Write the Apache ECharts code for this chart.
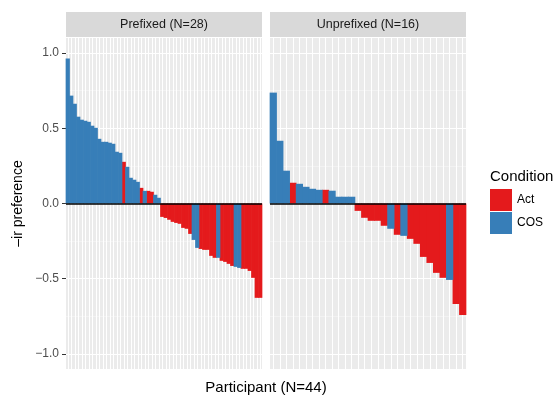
<!DOCTYPE html>
<html><head><meta charset="utf-8">
<script src="https://cdn.jsdelivr.net/npm/echarts@6.0.0/dist/echarts.min.js"></script>
<style>html,body{margin:0;padding:0;background:#fff}#c{width:558px;height:395px}</style>
</head><body><div id="c"></div>
<script>
// ---- data ----
const panelTitles = ['Prefixed (N=28)', 'Unprefixed (N=16)'];
const conditions = ['Act', 'COS'];
const yTicks = [-1, -0.5, 0, 0.5, 1];
const yMinorTicks = [-0.75, -0.25, 0.25, 0.75];

const prefixedValues = [
  0.963, 0.717, 0.663, 0.577, 0.557, 0.550, 0.543, 0.517, 0.503, 0.430,
  0.410, 0.410, 0.404, 0.397, 0.344, 0.337, 0.277, 0.244, 0.171, 0.158,
  0.144, 0.104, 0.084, 0.084, 0.078, 0.058, 0.038,
  -0.089, -0.096, -0.108, -0.122, -0.129, -0.135, -0.162, -0.168, -0.202, -0.242,
  -0.295, -0.302, -0.308, -0.308, -0.348, -0.361, -0.361, -0.381, -0.388, -0.401,
  -0.415, -0.421, -0.428, -0.434, -0.434, -0.448, -0.494, -0.627, -0.627
];
const prefixedCond = [
  'COS','COS','COS','COS','COS','COS','COS','COS','COS','COS',
  'COS','COS','COS','COS','COS','COS','Act','COS','COS','COS',
  'COS','Act','COS','Act','Act','COS','COS',
  'Act','Act','Act','Act','Act','Act','Act','Act','Act','COS',
  'COS','Act','Act','Act','Act','Act','COS','Act','Act','Act',
  'Act','COS','COS','Act','Act','Act','Act','Act','Act'
];
const unprefixedValues = [
  0.737, 0.417, 0.218, 0.138, 0.131, 0.111, 0.098, 0.091, 0.091, 0.085,
  0.045, 0.045, 0.045,
  -0.049, -0.095, -0.115, -0.115, -0.148, -0.168, -0.208, -0.215, -0.235,
  -0.268, -0.355, -0.395, -0.461, -0.494, -0.508, -0.668, -0.741
];
const unprefixedCond = [
  'COS','COS','COS','Act','COS','COS','COS','COS','Act','COS',
  'COS','COS','COS',
  'Act','Act','Act','Act','Act','COS','Act','COS','Act',
  'Act','Act','Act','Act','Act','COS','Act','Act'
];

// ---- styling ----
const colors = { Act: '#E41A1C', COS: '#377EB8' };
const FONT = '"Liberation Sans", Arial, Helvetica, sans-serif';
const panels = [
  { values: prefixedValues, cond: prefixedCond, left: 66 },
  { values: unprefixedValues, cond: unprefixedCond, left: 270 }
];
const PW = 196, PT = 38, PH = 331;

// bar drawn through the axis scales; slight overlap hides anti-alias seams
function renderBar(params, api) {
  const x = api.value(0), v = api.value(1);
  const p0 = api.coord([x, 0]);
  const p1 = api.coord([x, v]);
  const w = api.size([1, 0])[0];
  return {
    type: 'rect',
    shape: { x: p0[0] - w / 2 - 0.35, y: Math.min(p0[1], p1[1]),
             width: w + 0.7, height: Math.abs(p1[1] - p0[1]) },
    style: { fill: api.visual('color') }
  };
}

const grid = [], xAxis = [], yAxis = [], series = [], graphic = [];
panels.forEach((p, pi) => {
  grid.push({ left: p.left, top: PT, width: PW, height: PH, show: true,
    backgroundColor: '#EBEBEB', borderWidth: 0 });
  xAxis.push({ type: 'category', gridIndex: pi,
    data: p.values.map((_, i) => 'P' + (pi + 1) + '-' + (i + 1)),
    axisLine: { show: false }, axisTick: { show: false }, axisLabel: { show: false },
    splitLine: { show: true, interval: 0, alignWithLabel: true,
      lineStyle: { color: '#FFFFFF', width: 1 } } });
  // major y
  yAxis.push({ type: 'value', gridIndex: pi, min: -1.1, max: 1.1,
    axisLine: { show: false },
    axisTick: { show: pi === 0, length: 4, customValues: yTicks,
      lineStyle: { color: '#333333', width: 1 } },
    axisLabel: { show: pi === 0, customValues: yTicks, margin: 7,
      color: '#4D4D4D', fontSize: 12, fontFamily: FONT,
      formatter: v => v.toFixed(1).replace('-', '\u2212') },
    splitLine: { show: true, lineStyle: { color: '#FFFFFF', width: 1.2 } } });
  // minor y
  yAxis.push({ type: 'value', gridIndex: pi, min: -1.1, max: 1.1,
    axisLine: { show: false },
    axisTick: { show: false, customValues: yMinorTicks },
    axisLabel: { show: false, customValues: yMinorTicks },
    splitLine: { show: true, lineStyle: { color: '#F7F7F7', width: 0.6 } } });

  conditions.forEach((c) => {
    const data = [];
    p.values.forEach((v, i) => { if (p.cond[i] === c) data.push([i, v]); });
    series.push({ type: 'custom', name: c, xAxisIndex: pi, yAxisIndex: pi * 2,
      itemStyle: { color: colors[c] }, renderItem: renderBar,
      encode: { x: 0, y: 1 }, data });
  });
  // zero reference line (geom_hline)
  series.push({ type: 'bar', name: 'zero' + pi, xAxisIndex: pi, yAxisIndex: pi * 2,
    data: p.values.map(() => '-'), z: 5,
    markLine: { silent: true, symbol: ['none', 'none'], label: { show: false },
      lineStyle: { color: '#000000', width: 1.6, type: 'solid' },
      data: [{ yAxis: 0 }] } });

  graphic.push({ type: 'rect', shape: { x: p.left, y: 12, width: PW, height: 25 },
    style: { fill: '#D9D9D9' } });
  graphic.push({ type: 'text', x: p.left + PW / 2, y: 25,
    style: { text: panelTitles[pi], fill: '#1A1A1A', font: '12.5px ' + FONT,
      textAlign: 'center', textVerticalAlign: 'middle' } });
});

graphic.push({ type: 'text', x: 266, y: 388,
  style: { text: 'Participant (N=44)', fill: '#000', font: '15px ' + FONT,
    textAlign: 'center', textVerticalAlign: 'middle' } });
graphic.push({ type: 'text', x: 18, y: 203.5, rotation: Math.PI / 2,
  style: { text: '\u2013ir preference', fill: '#000', font: '14px ' + FONT,
    textAlign: 'center', textVerticalAlign: 'middle' } });
graphic.push({ type: 'text', x: 490, y: 177,
  style: { text: 'Condition', fill: '#000', font: '15px ' + FONT,
    textAlign: 'left', textVerticalAlign: 'middle' } });

const chart = echarts.init(document.getElementById('c'), null, { renderer: 'canvas' });
chart.setOption({
  animation: false,
  backgroundColor: '#FFFFFF',
  textStyle: { fontFamily: FONT },
  grid, xAxis, yAxis, series, graphic,
  legend: { orient: 'vertical', left: 490, top: 189, padding: 0, itemWidth: 22, itemHeight: 22,
    itemGap: 1, icon: 'rect', data: conditions, selectedMode: false,
    itemStyle: { borderWidth: 0 },
    textStyle: { fontSize: 12, color: '#000', fontFamily: FONT } }
});
</script></body></html>
